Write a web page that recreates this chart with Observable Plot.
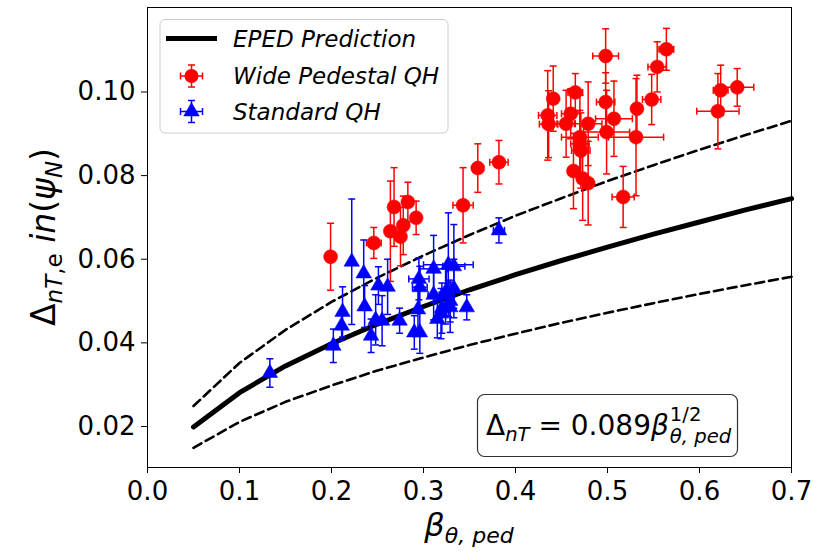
<!DOCTYPE html>
<html><head><meta charset="utf-8">
<script src="https://cdn.jsdelivr.net/npm/d3@7"></script>
<script src="https://cdn.jsdelivr.net/npm/@observablehq/plot@0.6"></script>
<style>body{margin:0;background:#fff} #chart{width:836px;height:552px}</style>
</head><body><div id="chart"></div>
<script>
// EPED prediction curve and ±25% band
const lineX  = [0.05,0.10,0.15,0.20,0.25,0.30,0.35,0.40,0.45,0.50,0.55,0.60,0.65,0.70];
const epedY  = [0.0199,0.0281,0.0345,0.0398,0.0445,0.0487,0.0527,0.0563,0.0597,0.0629,0.0660,0.0689,0.0718,0.0745];
const upperY = [0.0249,0.0352,0.0431,0.0498,0.0556,0.0609,0.0658,0.0704,0.0746,0.0787,0.0825,0.0862,0.0897,0.0931];
const lowerY = [0.0149,0.0211,0.0259,0.0298,0.0334,0.0365,0.0395,0.0422,0.0448,0.0472,0.0495,0.0517,0.0538,0.0558];

// Wide Pedestal QH
const wideX    = [0.199,0.246,0.268,0.283,0.292,0.264,0.278,0.275,0.343,0.359,0.382,0.435,0.436,0.441,0.460,0.455,0.465,0.479,0.470,0.470,0.471,0.463,0.473,0.479,0.498,0.498,0.499,0.507,0.517,0.532,0.531,0.548,0.554,0.564,0.620,0.623,0.641];
const wideY    = [0.0606,0.0639,0.0725,0.0737,0.0699,0.0667,0.0681,0.0654,0.0729,0.0818,0.0832,0.0944,0.0923,0.0984,0.0948,0.0924,0.0999,0.0924,0.0892,0.0876,0.0860,0.0811,0.0793,0.0782,0.1086,0.0976,0.0904,0.0936,0.0749,0.0960,0.0892,0.0982,0.1060,0.1102,0.0954,0.1004,0.1011];
const wideXerr = [0.000,0.008,0.004,0.005,0.004,0.004,0.005,0.004,0.011,0.005,0.010,0.010,0.010,0.005,0.010,0.010,0.008,0.015,0.020,0.010,0.010,0.005,0.005,0.005,0.014,0.010,0.025,0.020,0.012,0.005,0.030,0.010,0.010,0.008,0.023,0.008,0.018];
const wideYerr = [0.0080,0.0037,0.0094,0.0047,0.0040,0.0120,0.0070,0.0070,0.0090,0.0058,0.0052,0.0107,0.0080,0.0078,0.0060,0.0080,0.0045,0.0100,0.0100,0.0080,0.0090,0.0090,0.0100,0.0100,0.0065,0.0070,0.0100,0.0090,0.0073,0.0080,0.0140,0.0060,0.0060,0.0050,0.0090,0.0060,0.0045];

// Standard QH
const stdX    = [0.133,0.202,0.211,0.212,0.222,0.235,0.236,0.243,0.248,0.255,0.251,0.261,0.274,0.290,0.296,0.294,0.295,0.296,0.311,0.315,0.311,0.320,0.324,0.327,0.333,0.329,0.325,0.347,0.382,0.319,0.329,0.333];
const stdY    = [0.0328,0.0393,0.0441,0.0474,0.0594,0.0566,0.0487,0.0417,0.0455,0.0453,0.0537,0.0534,0.0453,0.0425,0.0425,0.0480,0.0553,0.0533,0.0577,0.0457,0.0515,0.0483,0.0515,0.0587,0.0583,0.0485,0.0525,0.0485,0.0669,0.0470,0.0500,0.0530];
const stdXerr = [0.000,0.005,0.000,0.000,0.000,0.000,0.000,0.000,0.000,0.000,0.000,0.000,0.000,0.000,0.000,0.000,0.011,0.008,0.015,0.000,0.006,0.000,0.006,0.027,0.012,0.000,0.000,0.000,0.006,0.000,0.000,0.000];
const stdYerr = [0.0034,0.0040,0.0035,0.0060,0.0150,0.0080,0.0050,0.0040,0.0060,0.0060,0.0045,0.0066,0.0030,0.0040,0.0050,0.0055,0.0050,0.0050,0.0080,0.0045,0.0060,0.0060,0.0070,0.0124,0.0100,0.0060,0.0060,0.0030,0.0030,0.0060,0.0050,0.0070];

const xTicks = [0.0,0.1,0.2,0.3,0.4,0.5,0.6,0.7];
const yTicks = [0.02,0.04,0.06,0.08,0.10];
const legendLabels = ["EPED Prediction","Wide Pedestal QH","Standard QH"];

const curve = lineX.map((x,i)=>({x, eped:epedY[i], upper:upperY[i], lower:lowerY[i]}));
const wide = wideX.map((x,i)=>({x, y:wideY[i], xe:wideXerr[i], ye:wideYerr[i]}));
const std  = stdX.map((x,i)=>({x, y:stdY[i], xe:stdXerr[i], ye:stdYerr[i]}));

const capH = {draw(ctx,size){const r=Math.sqrt(size/Math.PI); ctx.moveTo(-r,0); ctx.lineTo(r,0);}};
const capV = {draw(ctx,size){const r=Math.sqrt(size/Math.PI); ctx.moveTo(0,-r); ctx.lineTo(0,r);}};

const RED = "#ff0000", BLUE = "#0000ff";

function errMarks(data, color){
  const hx = data.filter(d=>d.xe>0);
  return [
    Plot.ruleX(data,{x:"x", y1:d=>d.y-d.ye, y2:d=>d.y+d.ye, stroke:color, strokeWidth:1.5}),
    Plot.ruleY(hx,{y:"y", x1:d=>d.x-d.xe, x2:d=>d.x+d.xe, stroke:color, strokeWidth:1.5}),
    Plot.dot(data,{x:"x", y:d=>d.y-d.ye, symbol:capH, r:3.5, stroke:color, fill:"none", strokeWidth:1.5}),
    Plot.dot(data,{x:"x", y:d=>d.y+d.ye, symbol:capH, r:3.5, stroke:color, fill:"none", strokeWidth:1.5}),
    Plot.dot(hx,{x:d=>d.x-d.xe, y:"y", symbol:capV, r:3.5, stroke:color, fill:"none", strokeWidth:1.5}),
    Plot.dot(hx,{x:d=>d.x+d.xe, y:"y", symbol:capV, r:3.5, stroke:color, fill:"none", strokeWidth:1.5})
  ];
}

const chart = Plot.plot({
  width:836, height:552,
  marginLeft:147, marginRight:45, marginTop:7, marginBottom:85,
  style:{fontFamily:"DejaVu Sans", color:"black", background:"white", overflow:"visible"},
  x:{domain:[0,0.7]},
  y:{domain:[0.0102,0.1202]},
  marks:[
    Plot.line(curve,{x:"x", y:"eped", stroke:"black", strokeWidth:5}),
    Plot.line(curve,{x:"x", y:"upper", stroke:"black", strokeWidth:2.6, strokeDasharray:"9,5"}),
    Plot.line(curve,{x:"x", y:"lower", stroke:"black", strokeWidth:2.6, strokeDasharray:"9,5"}),
    ...errMarks(wide, RED),
    Plot.dot(wide,{x:"x", y:"y", r:7, fill:RED, stroke:RED, strokeWidth:0.5}),
    ...errMarks(std, BLUE),
    Plot.dot(std,{x:"x", y:"y", r:5.8, symbol:"triangle", fill:BLUE, stroke:BLUE, strokeWidth:0.5}),
    Plot.frame({stroke:"black", strokeWidth:1}),
    Plot.axisX({ticks:xTicks, tickFormat:d3.format(".1f"), tickSize:6, tickPadding:8, fontSize:26, label:null}),
    Plot.axisY({ticks:yTicks, tickFormat:d3.format(".2f"), tickSize:6, tickPadding:6, fontSize:26, label:null})
  ]
});
document.getElementById("chart").appendChild(chart);

const svg = d3.select(chart);
const ns = "DejaVu Sans";

// Legend
const lg = svg.append("g").attr("text-anchor","start");
lg.append("rect").attr("x",160).attr("y",19.5).attr("width",288).attr("height",113.5)
  .attr("rx",5).attr("fill","white").attr("fill-opacity",0.85).attr("stroke","#cccccc").attr("stroke-width",1);
lg.append("line").attr("x1",166).attr("x2",217).attr("y1",38.5).attr("y2",38.5).attr("stroke","black").attr("stroke-width",5);
function errSymbol(g, color){
  const e = g.append("g").attr("stroke",color).attr("stroke-width",1.5);
  e.append("line").attr("x1",0).attr("x2",0).attr("y1",-11).attr("y2",11);
  e.append("line").attr("x1",-11).attr("x2",11).attr("y1",0).attr("y2",0);
  e.append("line").attr("x1",-3.5).attr("x2",3.5).attr("y1",-11).attr("y2",-11);
  e.append("line").attr("x1",-3.5).attr("x2",3.5).attr("y1",11).attr("y2",11);
  e.append("line").attr("x1",-11).attr("x2",-11).attr("y1",-3.5).attr("y2",3.5);
  e.append("line").attr("x1",11).attr("x2",11).attr("y1",-3.5).attr("y2",3.5);
}
const lr = lg.append("g").attr("transform","translate(191.5,76)");
errSymbol(lr, RED);
lr.append("circle").attr("r",7).attr("fill",RED);
const lb = lg.append("g").attr("transform","translate(191.5,111.5)");
errSymbol(lb, BLUE);
lb.append("path").attr("d",d3.symbol(d3.symbolTriangle, Math.PI*5.8*5.8)()).attr("fill",BLUE).attr("stroke",BLUE).attr("stroke-width",0.5);
const legendY = [46.5,84,119.5];
legendLabels.forEach((t,i)=>{
  lg.append("text").attr("x",233).attr("y",legendY[i]).attr("font-family",ns).attr("font-size",23)
    .attr("font-style","italic").attr("fill","black").attr("text-anchor","start").text(t);
});

// Annotation box
const ab = svg.append("g").attr("text-anchor","start");
ab.append("rect").attr("x",477.5).attr("y",394.5).attr("width",260).attr("height",62).attr("rx",7)
  .attr("fill","white").attr("stroke","#333").attr("stroke-width",1.2);
const at = ab.append("text").attr("x",486).attr("y",435).attr("font-family",ns).attr("font-size",28)
  .attr("fill","black").attr("text-anchor","start");
at.append("tspan").text("Δ");
at.append("tspan").attr("font-size",19.6).attr("font-style","italic").attr("dy",6).text("nT");
at.append("tspan").attr("dy",-6).text(" = 0.089");
at.append("tspan").attr("font-style","italic").text("β");
const w = at.node().getComputedTextLength();
ab.append("text").attr("x",486+w+1).attr("y",421).attr("font-family",ns).attr("font-size",19.6)
  .attr("fill","black").attr("text-anchor","start").text("1/2");
ab.append("text").attr("x",486+w+1).attr("y",443).attr("font-family",ns).attr("font-size",19.6)
  .attr("font-style","italic").attr("fill","black").attr("text-anchor","start").text("θ, ped");

// X axis label
const xl = svg.append("text").attr("x",469).attr("y",536).attr("text-anchor","middle")
  .attr("font-family",ns).attr("font-size",32).attr("fill","black");
xl.append("tspan").attr("font-style","italic").text("β");
xl.append("tspan").attr("font-style","italic").attr("font-size",22).attr("dy",7).text("θ, ped");

// Y axis label
const yl = svg.append("text").attr("transform","translate(55,237) rotate(-90)").attr("text-anchor","middle")
  .attr("font-family",ns).attr("font-size",33).attr("fill","black");
yl.append("tspan").text("Δ");
yl.append("tspan").attr("font-style","italic").attr("font-size",23).attr("dy",7).text("nT");
yl.append("tspan").attr("font-size",23).text(",e");
yl.append("tspan").attr("dy",-7).attr("font-style","italic").text(" in");
yl.append("tspan").text("(");
yl.append("tspan").attr("font-style","italic").text("ψ");
yl.append("tspan").attr("font-style","italic").attr("font-size",23).attr("dy",7).text("N");
yl.append("tspan").attr("dy",-7).text(")");
</script>
</body></html>
